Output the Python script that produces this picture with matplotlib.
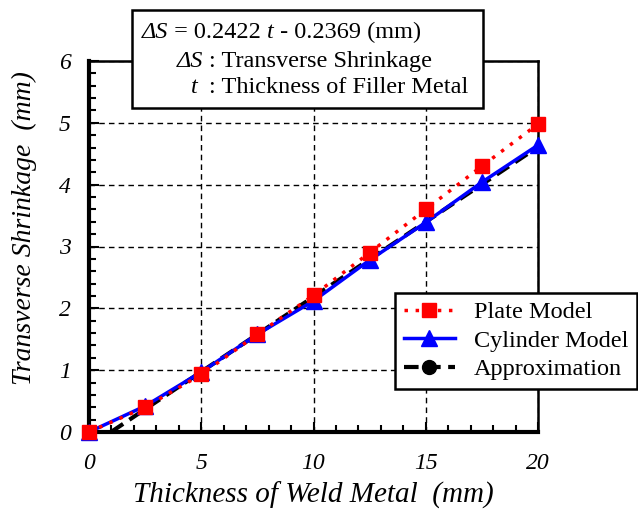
import matplotlib
matplotlib.use("Agg")
import matplotlib.pyplot as plt
from matplotlib.lines import Line2D
from matplotlib.patches import Rectangle
from matplotlib.ticker import MultipleLocator

plt.rcParams['font.family'] = ['Liberation Serif', 'DejaVu Serif']

# thickness of weld metal (mm)
t_model = [0, 2.5, 5, 7.5, 10, 12.5, 15, 17.5, 20]
plate = [0.0, 0.40, 0.93, 1.58, 2.21, 2.90, 3.60, 4.30, 4.98]
cylinder = [0.0, 0.42, 0.97, 1.58, 2.12, 2.78, 3.39, 4.04, 4.64]
# approximation line end points
t_approx = [0.98, 20]
s_approx = [0.0, 4.61]

fig = plt.figure(figsize=(6.38, 5.12), dpi=100)
ax = fig.add_axes([89/638, 1 - 432/512, 449/638, 371/512])

ax.plot(t_approx, s_approx, color='black', ls=(0, (3.5, 1.8)), lw=3, zorder=3)
ax.plot(t_model, cylinder, color='blue', lw=2.5, marker='^', ms=11,
        zorder=4, clip_on=False)
ax.plot(t_model, plate, color='red', ls=(0, (1, 2.2)), lw=2.5, marker='s',
        ms=10.5, zorder=5, clip_on=False)

ax.set_xlim(0, 20)
ax.set_ylim(0, 6)
ax.xaxis.set_major_locator(MultipleLocator(5))
ax.xaxis.set_minor_locator(MultipleLocator(1))
ax.yaxis.set_major_locator(MultipleLocator(1))
ax.yaxis.set_minor_locator(MultipleLocator(0.2))
ax.tick_params(which='both', direction='in', top=False, right=False,
               width=1.5, labelsize=17)
ax.tick_params(which='major', length=7)
ax.tick_params(axis='x', which='major', pad=15)
ax.tick_params(axis='y', which='major', pad=13)
ax.tick_params(which='minor', length=5)
for lab in ax.get_xticklabels() + ax.get_yticklabels():
    lab.set_fontstyle('italic')
ax.grid(True, which='major', color='black', ls=(0, (4, 3)), lw=1)

ax.spines['left'].set_linewidth(3)
ax.spines['bottom'].set_linewidth(3)
ax.spines['right'].set_linewidth(1.8)
ax.spines['top'].set_linewidth(1.8)

ax.set_xlabel('Thickness of Weld Metal  (mm)', fontsize=21, style='italic',
              labelpad=6)
ax.set_ylabel('Transverse Shrinkage  (mm)', fontsize=20, style='italic')
ax.yaxis.set_label_coords(-0.115, 0.55)

# legend (approximation shown with a marker only in the key)
handles = [
    Line2D([], [], color='red', ls=(0, (1, 2.2)), lw=2.5, marker='s', ms=10.5),
    Line2D([], [], color='blue', lw=2.5, marker='^', ms=11),
    Line2D([], [], color='black', ls=(0, (3.5, 1.8)), lw=3, marker='o', ms=10),
]
leg = ax.legend(handles, ['Plate Model', 'Cylinder Model', 'Approximation'],
                loc='lower right', bbox_to_anchor=(637/638, 1 - 389/512),
                bbox_transform=fig.transFigure, fontsize=17.5, fancybox=False,
                framealpha=1, edgecolor='black', handlelength=2.1,
                borderaxespad=0, borderpad=0.35, labelspacing=0.27,
                handletextpad=0.8)
leg.get_frame().set_linewidth(1.8)

# equation box
box = Rectangle((132/638, 1 - 108/512), 351/638, 98/512,
                transform=fig.transFigure, facecolor='white',
                edgecolor='black', lw=1.8, zorder=10, clip_on=False)
ax.add_patch(box)

fs = 17.5
kw = dict(fontsize=fs, zorder=11, annotation_clip=False)
t1 = ax.annotate('ΔS', xy=(142/638, 1 - 38/512), xycoords='figure fraction',
                 ha='left', va='baseline', style='italic', **kw)
t2 = ax.annotate(' = 0.2422 ', xy=(1, 0), xycoords=t1, ha='left',
                 va='bottom', **kw)
t3 = ax.annotate('t', xy=(1, 0), xycoords=t2, ha='left', va='bottom',
                 style='italic', **kw)
ax.annotate(' - 0.2369 (mm)', xy=(1, 0), xycoords=t3, ha='left',
            va='bottom', **kw)
ax.annotate('ΔS', xy=(203/638, 1 - 67/512), xycoords='figure fraction',
            ha='right', va='baseline', style='italic', **kw)
ax.annotate('t', xy=(198/638, 1 - 93/512), xycoords='figure fraction',
            ha='right', va='baseline', style='italic', **kw)
ax.annotate(': Transverse Shrinkage', xy=(209/638, 1 - 67/512),
            xycoords='figure fraction', ha='left', va='baseline', **kw)
ax.annotate(': Thickness of Filler Metal', xy=(209/638, 1 - 93/512),
            xycoords='figure fraction', ha='left', va='baseline', **kw)

fig.savefig('out.png', dpi=100)
